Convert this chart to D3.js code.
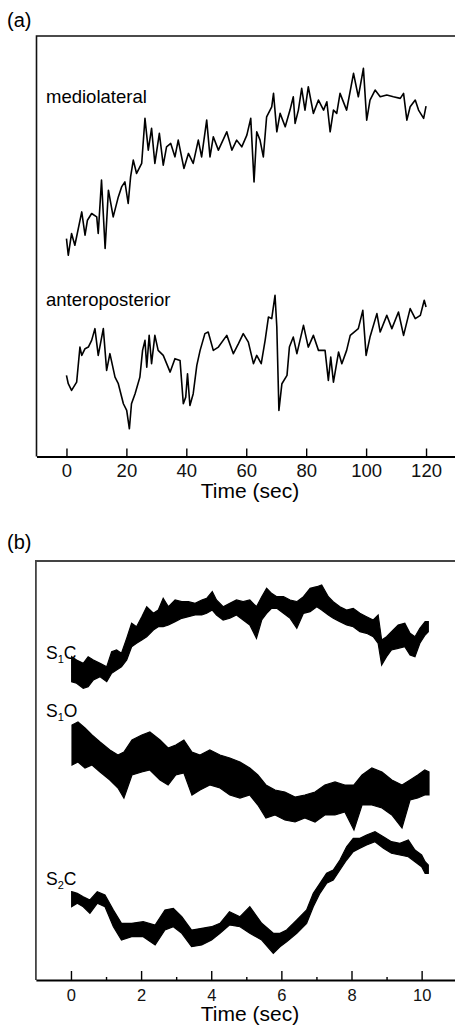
<!DOCTYPE html>
<html>
<head>
<meta charset="utf-8">
<script src="https://cdn.jsdelivr.net/npm/d3@7"></script>
<style>
body { margin: 0; background: #fff; }
svg { display: block; font-family: "Liberation Sans", Arial, Helvetica, sans-serif; }
</style>
</head>
<body>
<svg width="455" height="1026"></svg>
<script>
// (a) 120 s trial, sway traces in arbitrary units, [time, value]
const ticksA = [0, 20, 40, 60, 80, 100, 120]
const mediolateral = [[0,217.7],[0.6,201],[1.7,222.7],[2.8,211],[5.1,244.3],[6.2,221],[7,236],[8.4,242.7],[10.1,239.3],[10.6,222.7],[11.7,276],[12.9,207.7],[14,266],[15.6,239.3],[17.3,259.3],[18.4,269.3],[19.5,274.3],[20.6,252.7],[21.4,279.3],[22.3,296],[23.4,282.7],[25.1,292.7],[26.2,337.7],[27.3,306],[28.4,327.7],[29.5,292.7],[31,322.7],[32.3,291],[33.4,309.3],[34.8,312.7],[36.2,299.3],[37.3,316],[39.2,287.7],[40.7,302.7],[42.3,292.7],[44,316],[45.1,299.3],[46.8,336],[47.9,299.3],[49,319.3],[50.7,306],[53.5,324.3],[55.2,306],[56.8,316],[58.5,309.3],[60.2,321],[61.5,337.7],[62.6,274.3],[63.5,324.3],[64.6,316],[65.7,299.3],[66.8,339.3],[68.5,349.3],[69.1,362.7],[70.2,324.3],[71.3,342.7],[73,329.3],[74.6,346],[75.7,359.3],[76.3,332.7],[77.4,346],[78.5,367.7],[79.6,346],[80.7,369.3],[82.4,342.7],[84.1,356],[85.8,346],[86.9,354.3],[88,324.3],[89.1,346],[90.2,342.7],[91.3,362.7],[93.5,346],[95.8,382.7],[97.4,359.3],[99.1,387.7],[100.2,336],[101.3,356],[103,366],[104.7,359.3],[106.9,361],[109.1,359.3],[111.4,357.7],[112.5,362.7],[113.6,336],[114.7,349.3],[116.4,356],[117.5,346],[119.2,337.7],[120,350]]
const anteroposterior = [[0,81],[0.6,72.7],[1.7,66],[3.4,74.3],[4.5,109.3],[5.1,101],[6.2,107.7],[7.3,109.3],[8.4,116],[9.5,127.7],[10.6,101],[12.3,127.7],[13.4,86],[14.5,102.7],[16.2,79.3],[17.3,72.7],[19,52.7],[20.1,46],[21,27.7],[21.7,52.7],[22.9,62.7],[24.5,79.3],[25.4,106],[26.2,116],[26.8,89.3],[27.6,121],[28.4,92.7],[29.5,121],[30.6,106],[32.3,101],[34.6,84.3],[36.2,97.7],[37.9,96],[39,52.7],[39.8,59.3],[40.4,82.7],[41.2,51],[42.3,62.7],[43.5,91],[44.6,106],[46.2,122.7],[47.3,124.3],[49,106],[50.7,109.3],[53.5,121],[55.7,102.7],[57.4,112.7],[59,122.7],[60.7,114.3],[62.4,92.7],[63.5,101],[65,92.7],[66.3,116],[67.4,139.3],[68.5,137.7],[69.6,161],[70.2,129.3],[70.9,46],[71.9,72.7],[73.6,81],[74.4,109.3],[75.7,119.3],[76.9,102.7],[79.1,131],[80.7,109.3],[82.4,121],[84.1,106],[86.3,106],[87.4,76],[88.2,99.3],[89.1,74.3],[90.8,104.3],[91.9,92.7],[93.5,106],[94.7,121],[97.4,127.7],[98.9,146],[100,101],[101.3,119.3],[103.6,142.7],[104.7,124.3],[106.9,141],[108.6,127.7],[110.8,144.3],[112.5,121],[114.7,147.7],[116.4,137.7],[118.1,141],[119.4,156],[120,149.3]]

// (b) 10 s trials, noisy band read as [time, lower, upper]
const ticksB = [0, 2, 4, 6, 8, 10]
const minorB = [1, 3, 5, 7, 9]
const s1c = [[0.02,298.3,323.3],[0.16,296.7,320],[0.35,291.7,316.7],[0.49,293.3,323.3],[0.64,300,320],[0.83,303.3,316.7],[1.02,298.3,313.3],[1.16,306.7,328.3],[1.3,310,330],[1.44,313.3,326.7],[1.59,320,341.7],[1.73,333.3,356.7],[1.87,336.7,353.3],[2.02,340,363.3],[2.16,343.3,373.3],[2.35,350,366.7],[2.49,353.3,370],[2.63,353.3,381.7],[2.78,355,373.3],[2.97,358.3,380],[3.16,361.7,378.3],[3.35,363.3,378.3],[3.54,365,376.7],[3.73,365,380],[3.87,366.7,381.7],[4.03,370,388.3],[4.15,365,380],[4.34,360,373.3],[4.53,361.7,376.7],[4.72,365,380],[4.91,360,378.3],[5.1,355,380],[5.29,341.7,373.3],[5.44,360,383.3],[5.58,366.7,391.7],[5.72,371.7,386.7],[5.87,371.7,383.3],[6.06,366.7,383.3],[6.25,361.7,380],[6.44,351.7,378.3],[6.63,366.7,383.3],[6.82,368.3,391.7],[7.01,373.3,393.3],[7.15,370,395],[7.34,365,383.3],[7.48,361.7,378.3],[7.67,358.3,373.3],[7.86,355,370],[8.05,353.3,371.7],[8.24,348.3,366.7],[8.43,346.7,363.3],[8.62,343.3,360],[8.76,336.7,365],[8.86,315,340],[9,323.3,343.3],[9.14,330,348.3],[9.33,331.7,355],[9.52,333.3,356.7],[9.67,325,346.7],[9.81,323.3,343.3],[9.95,336.7,351.7],[10.1,345,358.3],[10.19,348.3,358.3]]
const s1o = [[0.03,215,255],[0.2,218,258],[0.4,212,252],[0.6,215,245],[0.83,208,238],[1.11,200,230],[1.34,192,225],[1.51,182,228],[1.74,205,240],[2.02,208,245],[2.25,210,248],[2.54,200,240],[2.77,195,232],[2.99,205,235],[3.22,207,240],[3.45,185,228],[3.68,190,225],[3.96,195,230],[4.25,192,225],[4.53,185,222],[4.82,182,218],[5.1,185,212],[5.33,175,205],[5.56,162,195],[5.82,165,190],[6.1,160,188],[6.39,158,183],[6.67,162,185],[6.96,158,188],[7.24,165,195],[7.53,165,198],[7.81,168,195],[8.07,150,195],[8.3,175,205],[8.58,175,212],[8.87,172,208],[9.15,165,200],[9.44,152,195],[9.67,180,200],[9.89,182,205],[10.09,185,210],[10.21,185,208]]
const s2c = [[0.02,73.3,88.3],[0.18,76.7,86.7],[0.35,73.3,83.3],[0.54,66.7,80],[0.75,76.7,88.3],[0.97,73.3,85],[1.21,53.3,70],[1.44,40,56.7],[1.73,43.3,56.7],[2.06,43.3,58.3],[2.4,35,55],[2.68,50,70],[2.92,53.3,71.7],[3.16,46.7,63.3],[3.44,33.3,50],[3.73,35,51.7],[4.01,40,53.3],[4.25,46.7,56.7],[4.52,55,68.3],[4.82,53.3,63.3],[5.1,46.7,73.3],[5.44,40,56.7],[5.77,26.7,46.7],[5.96,33.3,46.7],[6.15,38.3,50],[6.44,46.7,60],[6.72,56.7,70],[6.91,73.3,86.7],[7.1,86.7,96.7],[7.29,96.7,106.7],[7.48,100,110],[7.67,110,120],[7.86,120,133.3],[8.05,128.3,141.7],[8.24,131.7,141.7],[8.43,135,145],[8.67,138.3,148.3],[8.91,131.7,143.3],[9.14,126.7,138.3],[9.38,125,136.7],[9.62,123.3,140],[9.81,118.3,130],[10,113.3,125],[10.1,106.7,118.3],[10.19,106.7,115]]

const svg = d3.select("svg")

// ---- panel (a)
const xA = d3.scaleLinear().domain([-10, 130]).range([36.5, 456])
const yA = d3.scaleLinear().domain([0, 420]).range([456.5, 36])

const lineA = d3.line().x(d => xA(d[0])).y(d => yA(d[1]))

svg.append("path")
    .attr("d", `M${xA.range()[0]},${yA.range()[0]}V${yA.range()[1]}H455`)
    .attr("fill", "none")
    .attr("stroke", "#111")
    .attr("stroke-width", 1.6)

svg.selectAll("path.traceA")
    .data([mediolateral, anteroposterior])
    .enter()
    .append("path")
    .attr("class", "traceA")
    .attr("d", lineA)
    .attr("fill", "none")
    .attr("stroke", "#000")
    .attr("stroke-width", 1.6)
    .attr("stroke-linejoin", "round")

const axisA = svg.append("g")
    .attr("transform", `translate(0,${yA(0)})`)
    .call(d3.axisBottom(xA).tickValues(ticksA).tickSize(-8).tickSizeOuter(0).tickPadding(7))
axisA.select(".domain").attr("stroke", "#000").attr("stroke-width", 2)
axisA.selectAll(".tick line").attr("stroke", "#000").attr("stroke-width", 1.4)
axisA.selectAll("text").attr("font-size", 18.5).attr("fill", "#111").style("font-family", "inherit")

svg.append("text").attr("x", 250).attr("y", 498).attr("text-anchor", "middle")
    .attr("font-size", 21).text("Time (sec)")
svg.append("text").attr("x", 7).attr("y", 27).attr("font-size", 20).text("(a)")
svg.append("text").attr("x", 46).attr("y", 103).attr("font-size", 18.5).text("mediolateral")
svg.append("text").attr("x", 46).attr("y", 306).attr("font-size", 18.5).text("anteroposterior")

// ---- panel (b)
const xB = d3.scaleLinear().domain([-1, 11]).range([35.9, 456.7])
const yB = d3.scaleLinear().domain([0, 420]).range([980, 560])

const band = d3.area().x(d => xB(d[0])).y0(d => yB(d[1])).y1(d => yB(d[2]))

svg.append("path")
    .attr("d", `M${xB.range()[0]},${yB.range()[0]}V${yB.range()[1] + 1}H455`)
    .attr("fill", "none")
    .attr("stroke", "#444")
    .attr("stroke-width", 1.8)

svg.selectAll("path.traceB")
    .data([s1c, s1o, s2c])
    .enter()
    .append("path")
    .attr("class", "traceB")
    .attr("d", band)
    .attr("fill", "#000")
    .attr("stroke", "#000")
    .attr("stroke-width", 1.2)
    .attr("stroke-linejoin", "miter")

const axisB = svg.append("g")
    .attr("transform", `translate(0,${yB(0)})`)
    .call(d3.axisBottom(xB).tickValues(ticksB).tickSize(-9).tickSizeOuter(0).tickPadding(9))
axisB.select(".domain").attr("stroke", "#000").attr("stroke-width", 2)
axisB.selectAll(".tick line").attr("stroke", "#000").attr("stroke-width", 1.4)
axisB.selectAll("text").attr("font-size", 16.5).attr("fill", "#111").style("font-family", "inherit")

const minorAxisB = svg.append("g")
    .attr("transform", `translate(0,${yB(0)})`)
    .call(d3.axisBottom(xB).tickValues(minorB).tickSize(-3).tickSizeOuter(0).tickFormat(""))
minorAxisB.select(".domain").remove()
minorAxisB.selectAll(".tick line").attr("stroke", "#000").attr("stroke-width", 1.4)

svg.append("text").attr("x", 250).attr("y", 1021).attr("text-anchor", "middle")
    .attr("font-size", 21).text("Time (sec)")
svg.append("text").attr("x", 7).attr("y", 549).attr("font-size", 20).text("(b)")

const seriesLabels = [
    { sub: "1", tail: "C", y: 659 },
    { sub: "1", tail: "O", y: 717 },
    { sub: "2", tail: "C", y: 885 }
]
seriesLabels.forEach(l => {
    const t = svg.append("text").attr("x", 46).attr("y", l.y).attr("font-size", 17.5)
    t.append("tspan").text("S")
    t.append("tspan").attr("font-size", 11).attr("dy", 4).text(l.sub)
    t.append("tspan").attr("dy", -4).text(l.tail)
})
</script>
</body>
</html>
